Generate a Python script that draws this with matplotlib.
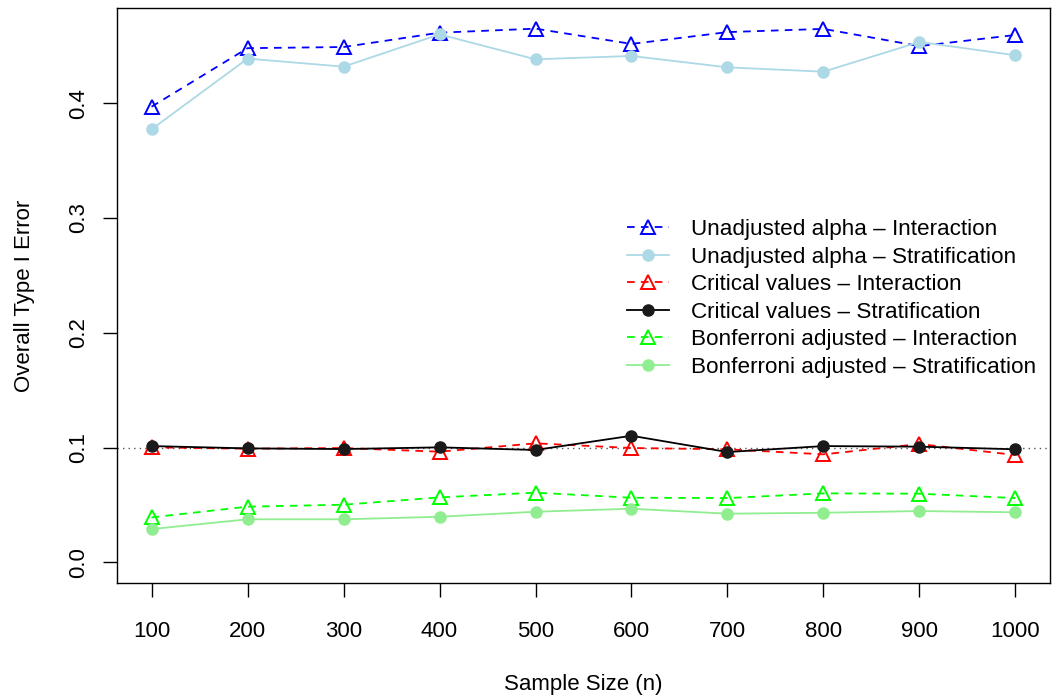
import matplotlib
matplotlib.use("Agg")
import matplotlib.pyplot as plt

plt.rcParams['font.family'] = ['Liberation Sans', 'DejaVu Sans']
plt.rcParams['lines.scale_dashes'] = False

sample_sizes = [100, 200, 300, 400, 500, 600, 700, 800, 900, 1000]

unadj_inter = [0.397, 0.448, 0.449, 0.4615, 0.465, 0.4517, 0.462, 0.4648, 0.4498, 0.4595]
unadj_strat = [0.3773, 0.4389, 0.4319, 0.4600, 0.4383, 0.4412, 0.4313, 0.4275, 0.4534, 0.4418]
crit_inter = [0.1002, 0.0990, 0.0996, 0.0964, 0.1037, 0.0996, 0.0985, 0.0941, 0.1031, 0.0935]
crit_strat = [0.1013, 0.0993, 0.0987, 0.1002, 0.0979, 0.1103, 0.0961, 0.1013, 0.1008, 0.0985]
bonf_inter = [0.0392, 0.0485, 0.0502, 0.0566, 0.0607, 0.0563, 0.0560, 0.0601, 0.0598, 0.0560]
bonf_strat = [0.0290, 0.0375, 0.0375, 0.0397, 0.0441, 0.0467, 0.0424, 0.0432, 0.0447, 0.0436]

labels = ["Unadjusted alpha \u2013 Interaction",
          "Unadjusted alpha \u2013 Stratification",
          "Critical values \u2013 Interaction",
          "Critical values \u2013 Stratification",
          "Bonferroni adjusted \u2013 Interaction",
          "Bonferroni adjusted \u2013 Stratification"]

FS = 16
W, H = 1052, 696
fig = plt.figure(figsize=(W / 100, H / 100), dpi=100)
ax = fig.add_axes([117 / W, (H - 583) / H, (1050 - 117) / W, (583 - 8) / H])

ax.axhline(0.1, color='#555555', linestyle=(0, (1, 3)), linewidth=1.0, zorder=1)

dash = (0, (5.5, 4.5))
series = [
    (unadj_inter, '#0000FF', dash, '^', 'none'),
    (unadj_strat, '#ADD8E6', '-', 'o', '#ADD8E6'),
    (crit_inter, '#FF0000', dash, '^', 'none'),
    (crit_strat, '#000000', '-', 'o', '#1a1a1a'),
    (bonf_inter, '#00FF00', dash, '^', 'none'),
    (bonf_strat, '#90EE90', '-', 'o', '#90EE90'),
]
for (vals, col, ls, mk, fc), lab in zip(series, labels):
    if mk == '^':
        ax.plot(sample_sizes, vals, color=col, linestyle=ls, linewidth=1.3,
                marker=mk, markersize=10, markerfacecolor='none',
                markeredgecolor=col, markeredgewidth=1.4, label=lab)
    else:
        ax.plot(sample_sizes, vals, color=col, linestyle=ls, linewidth=1.3,
                marker=mk, markersize=8, markerfacecolor=fc,
                markeredgecolor=fc, label=lab)

ax.set_xlim(64, 1036)
ax.set_ylim(-0.018, 0.483)
ax.set_xticks(sample_sizes)
ax.set_xticklabels([str(s) for s in sample_sizes])
ax.set_yticks([0.0, 0.1, 0.2, 0.3, 0.4])
ax.set_yticklabels(["0.0", "0.1", "0.2", "0.3", "0.4"], rotation=90, va='center')
ax.tick_params(axis='both', length=10, width=1, labelsize=FS, direction='out')
ax.tick_params(axis='x', pad=17.5)
ax.tick_params(axis='y', pad=10)
for sp in ax.spines.values():
    sp.set_linewidth(1.0)

ax.set_xlabel("Sample Size (n)", fontsize=FS, labelpad=23)
ax.set_ylabel("Overall Type I Error", fontsize=FS, labelpad=24)

leg = ax.legend(loc='upper left', bbox_to_anchor=(627 / W, 1 - 219 / H),
                bbox_transform=fig.transFigure, frameon=False, fontsize=FS + 0.2,
                handlelength=1.85, handletextpad=1.0, labelspacing=0.29,
                borderpad=0, borderaxespad=0)

fig.savefig("out.png", dpi=100)
